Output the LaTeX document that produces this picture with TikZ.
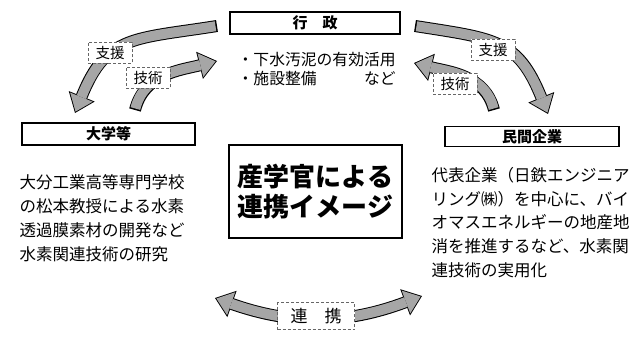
\documentclass[tikz,border=0pt]{standalone}
\usepackage{fontspec}
\setmainfont{Noto Sans CJK JP}
\usetikzlibrary{arrows.meta,positioning}

\begin{document}
\begin{tikzpicture}[x=1pt, y=1pt,
  box/.style={draw, line width=1.1pt, inner sep=0pt, font=\bfseries\fontsize{15}{15}\selectfont},
  tag/.style={draw=black!60, densely dashed, line width=0.6pt, fill=white, minimum width=44pt, minimum height=21pt, inner sep=0pt, font=\fontsize{14.5}{15}\selectfont},
  body/.style={anchor=north west, inner sep=0pt, align=left, font=\fontsize{16.5}{23.8}\selectfont},
  bandout/.style={line width=12pt, black},
  bandin/.style={line width=10pt, black!35, shorten >=1.5pt, shorten <=1.5pt},
  headout/.tip={Triangle[length=18pt, width=28pt, line width=0pt]},
  headin/.tip={Triangle[length=15.6pt, width=24.3pt, line width=0pt]},
]
  \path[use as bounding box, fill=white] (0,0) rectangle (637,338);

  % boxes
  \node[box, minimum width=170pt, minimum height=22pt] (gov) at (315,315) {行　政};
  \node[box, minimum width=173pt, minimum height=22pt] (uni) at (108.5,204) {大学等};
  \node[box, minimum width=174pt, minimum height=20pt] (biz) at (532,201.5) {民間企業};
  \node[draw, line width=1.4pt, fill=white, minimum width=173pt, minimum height=93pt, align=center,
        font=\bfseries\fontsize{26}{30}\selectfont] (idea) at (315.5,146.5) {産学官による\\連携イメージ};

  % texts under the boxes
  \node[body, font=\fontsize{15.8}{19}\selectfont, below right=17pt and 8pt of gov.south west] (govtxt)
    {・下水汚泥の有効活用\\・施設整備　　　など};
  \node[body, below right=29pt and -2pt of uni.south west] (unitxt)
    {大分工業高等専門学校\\の松本教授による水素\\透過膜素材の開発など\\水素関連技術の研究};
  \node[body, below right=20pt and -13pt of biz.south west] (biztxt)
    {代表企業（日鉄エンジニア\\リング㈱）を中心に、バイ\\オマスエネルギーの地産地\\消を推進するなど、水素関\\連技術の実用化};

  % arrow ends
  \coordinate (supL0) at (217,312);
  \coordinate (supL1) at (75,225);
  \coordinate (tecL0) at (135,228);
  \coordinate (tecL1) at (217,277);
  \coordinate (supR0) at (415,312);
  \coordinate (supR1) at (548,224);
  \coordinate (tecR0) at (494,228);
  \coordinate (tecR1) at (414,275);
  \coordinate (coop0) at (215,40);
  \coordinate (coop1) at (422,42);

  % curved block arrows
  \draw[bandout, -headout] (supL0) to[out=189, in=68, looseness=1.3] (supL1);
  \draw[bandin, -headin] (supL0) to[out=189, in=68, looseness=1.3] (supL1);
  \draw[bandout, -headout] (tecL0) to[out=76, in=194] (tecL1);
  \draw[bandin, -headin] (tecL0) to[out=76, in=194] (tecL1);
  \draw[bandout, -headout] (supR0) to[out=351, in=112, looseness=1.3] (supR1);
  \draw[bandin, -headin] (supR0) to[out=351, in=112, looseness=1.3] (supR1);
  \draw[bandout, -headout] (tecR0) to[out=104, in=346] (tecR1);
  \draw[bandin, -headin] (tecR0) to[out=104, in=346] (tecR1);
  \draw[bandout, headout-headout] (coop0) to[bend right=20] (coop1);
  \draw[bandin, headin-headin] (coop0) to[bend right=20] (coop1);

  % labels on the arrows
  \node[tag] (supLtag) at (110,285) {支援};
  \node[tag] (tecLtag) at (148,260) {技術};
  \node[tag] (supRtag) at (493,288) {支援};
  \node[tag] (tecRtag) at (455,254) {技術};
  \node[tag, minimum width=77pt, minimum height=27pt, font=\fontsize{17}{17}\selectfont] (cooptag) at (316,22) {連　携};
\end{tikzpicture}
\end{document}
